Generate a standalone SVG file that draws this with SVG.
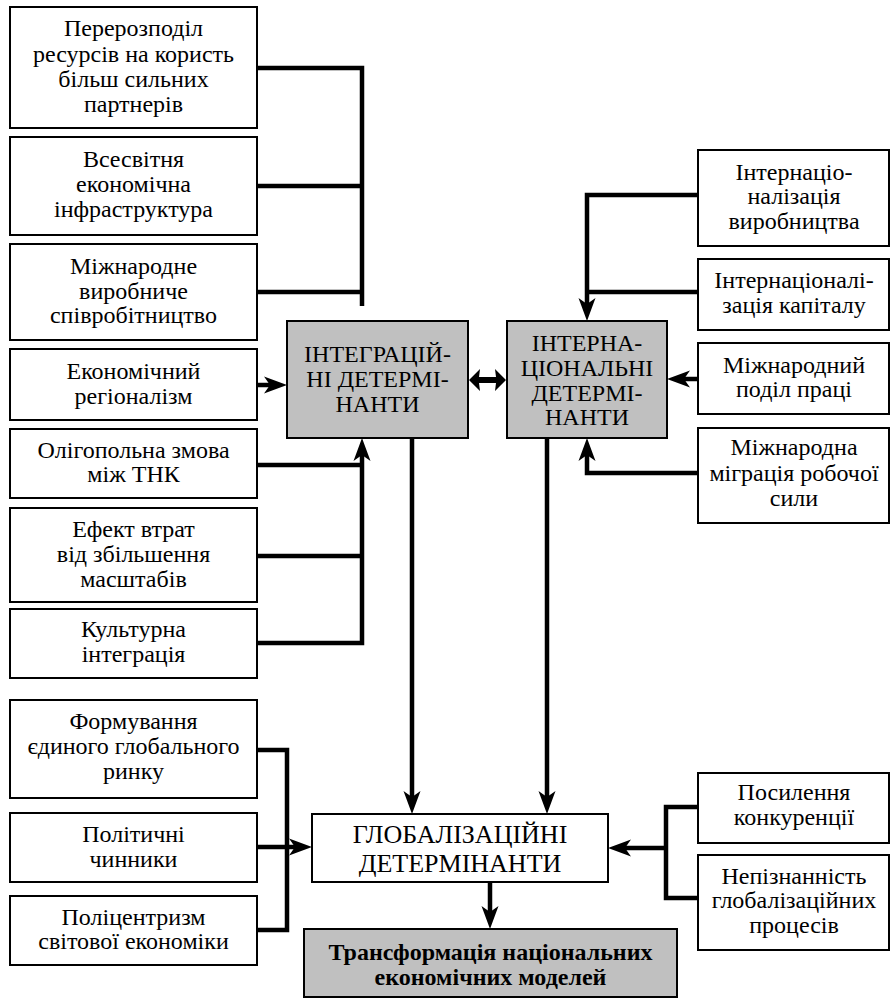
<svg xmlns="http://www.w3.org/2000/svg" width="891" height="999" viewBox="0 0 891 999">
<style>
.box{fill:#fff;stroke:#000;stroke-width:2}
.gray{fill:#c0c0c0;stroke:#000;stroke-width:2}
text{font-family:"Times New Roman","Liberation Serif",serif;font-size:24px;fill:#000;text-anchor:middle}
.big{font-size:26px}
.bold{font-weight:bold}
.ln{fill:none;stroke:#000;stroke-width:4.5;stroke-linejoin:miter}
.ar{marker-end:url(#ah)}
</style>
<defs>
<marker id="ah" markerUnits="userSpaceOnUse" viewBox="-12 -10 28 20" refX="0" refY="0" markerWidth="28" markerHeight="20" orient="auto">
<path d="M14,0 L-9,-8.5 L-3,0 L-9,8.5 Z" fill="#000"/>
</marker>
</defs>
<rect width="891" height="999" fill="#fff"/>

<g id="connectors">
<path class="ln" d="M257,68 H362 V306"/>
<path class="ln" d="M257,186 H362"/>
<path class="ln" d="M257,292 H362"/>
<path class="ln ar" d="M257,385 H273"/>
<path class="ln" d="M257,465 H362"/>
<path class="ln" d="M257,556 H362"/>
<path class="ln ar" d="M257,643 H362 V452"/>
<path d="M469,380 L480,369 L479,377 L496,377 L495,369 L506,380 L495,391 L496,383 L479,383 L480,391 Z" fill="#000"/>
<path class="ln ar" d="M698,195 H587 V307"/>
<path class="ln" d="M698,292 H587"/>
<path class="ln ar" d="M698,379 H681"/>
<path class="ln ar" d="M698,473 H587 V452"/>
<path class="ln ar" d="M412,438 V800"/>
<path class="ln ar" d="M547,438 V800"/>
<path class="ln" d="M257,750 H287 V930 H257"/>
<path class="ln ar" d="M257,847 H298"/>
<path class="ln" d="M698,807 H666 V898 H698"/>
<path class="ln ar" d="M666,848 H622"/>
<path class="ln ar" d="M490,882 V915"/>
</g>

<g id="n1"><rect class="box" x="10" y="7" width="247" height="121"/>
<text x="133.5" y="36">Перерозподіл</text><text x="133.5" y="62">ресурсів на користь</text><text x="133.5" y="87">більш сильних</text><text x="133.5" y="112">партнерів</text></g>
<g id="n2"><rect class="box" x="10" y="137" width="247" height="98"/>
<text x="133.5" y="167">Всесвітня</text><text x="133.5" y="192">економічна</text><text x="133.5" y="217">інфраструктура</text></g>
<g id="n3"><rect class="box" x="10" y="244" width="247" height="96"/>
<text x="133.5" y="274">Міжнародне</text><text x="133.5" y="299">виробниче</text><text x="133.5" y="323">співробітництво</text></g>
<g id="n4"><rect class="box" x="10" y="349" width="247" height="71"/>
<text x="133.5" y="379">Економічний</text><text x="133.5" y="404">регіоналізм</text></g>
<g id="n5"><rect class="box" x="10" y="429" width="247" height="69"/>
<text x="133.5" y="458">Олігопольна змова</text><text x="133.5" y="482">між ТНК</text></g>
<g id="n6"><rect class="box" x="10" y="508" width="247" height="94"/>
<text x="133.5" y="537">Ефект втрат</text><text x="133.5" y="562">від збільшення</text><text x="133.5" y="587">масштабів</text></g>
<g id="n7"><rect class="box" x="10" y="609" width="247" height="69"/>
<text x="133.5" y="637">Культурна</text><text x="133.5" y="662">інтеграція</text></g>
<g id="n8"><rect class="box" x="10" y="700" width="247" height="98"/>
<text x="133.5" y="729">Формування</text><text x="133.5" y="754">єдиного глобального</text><text x="133.5" y="779">ринку</text></g>
<g id="n9"><rect class="box" x="10" y="813" width="247" height="69"/>
<text x="133.5" y="842">Політичні</text><text x="133.5" y="867">чинники</text></g>
<g id="n10"><rect class="box" x="10" y="896" width="247" height="69"/>
<text x="133.5" y="925">Поліцентризм</text><text x="133.5" y="949">світової економіки</text></g>

<g id="integr"><rect class="gray" x="287" y="321" width="181" height="117"/>
<text x="377.5" y="362">ІНТЕГРАЦІЙ-</text><text x="377.5" y="387">НІ ДЕТЕРМІ-</text><text x="377.5" y="412">НАНТИ</text></g>
<g id="intern"><rect class="gray" x="507" y="321" width="160" height="117"/>
<text x="587" y="351">ІНТЕРНА-</text><text x="587" y="376">ЦІОНАЛЬНІ</text><text x="587" y="401">ДЕТЕРМІ-</text><text x="587" y="425">НАНТИ</text></g>

<g id="r1"><rect class="box" x="698" y="150" width="191" height="96"/>
<text x="794" y="180">Інтернаціо-</text><text x="794" y="204">налізація</text><text x="794" y="229">виробництва</text></g>
<g id="r2"><rect class="box" x="698" y="259" width="191" height="71"/>
<text x="794" y="288">Інтернаціоналі-</text><text x="794" y="313">зація капіталу</text></g>
<g id="r3"><rect class="box" x="698" y="343" width="191" height="71"/>
<text x="794" y="373">Міжнародний</text><text x="794" y="397">поділ праці</text></g>
<g id="r4"><rect class="box" x="698" y="428" width="191" height="95"/>
<text x="794" y="455">Міжнародна</text><text x="794" y="481">міграція робочої</text><text x="794" y="506">сили</text></g>
<g id="r5"><rect class="box" x="698" y="773" width="191" height="70"/>
<text x="794" y="800">Посилення</text><text x="794" y="825">конкуренції</text></g>
<g id="r6"><rect class="box" x="698" y="855" width="191" height="95"/>
<text x="794" y="884">Непізнанність</text><text x="794" y="908">глобалізаційних</text><text x="794" y="933">процесів</text></g>

<g id="glob"><rect class="box" x="312" y="814" width="296" height="68"/>
<text class="big" x="460" y="843">ГЛОБАЛІЗАЦІЙНІ</text><text class="big" x="460" y="872">ДЕТЕРМІНАНТИ</text></g>
<g id="transf"><rect class="gray" x="304" y="929" width="373" height="68"/>
<text class="bold" x="490.5" y="960">Трансформація національних</text><text class="bold" x="490.5" y="985">економічних моделей</text></g>
</svg>
